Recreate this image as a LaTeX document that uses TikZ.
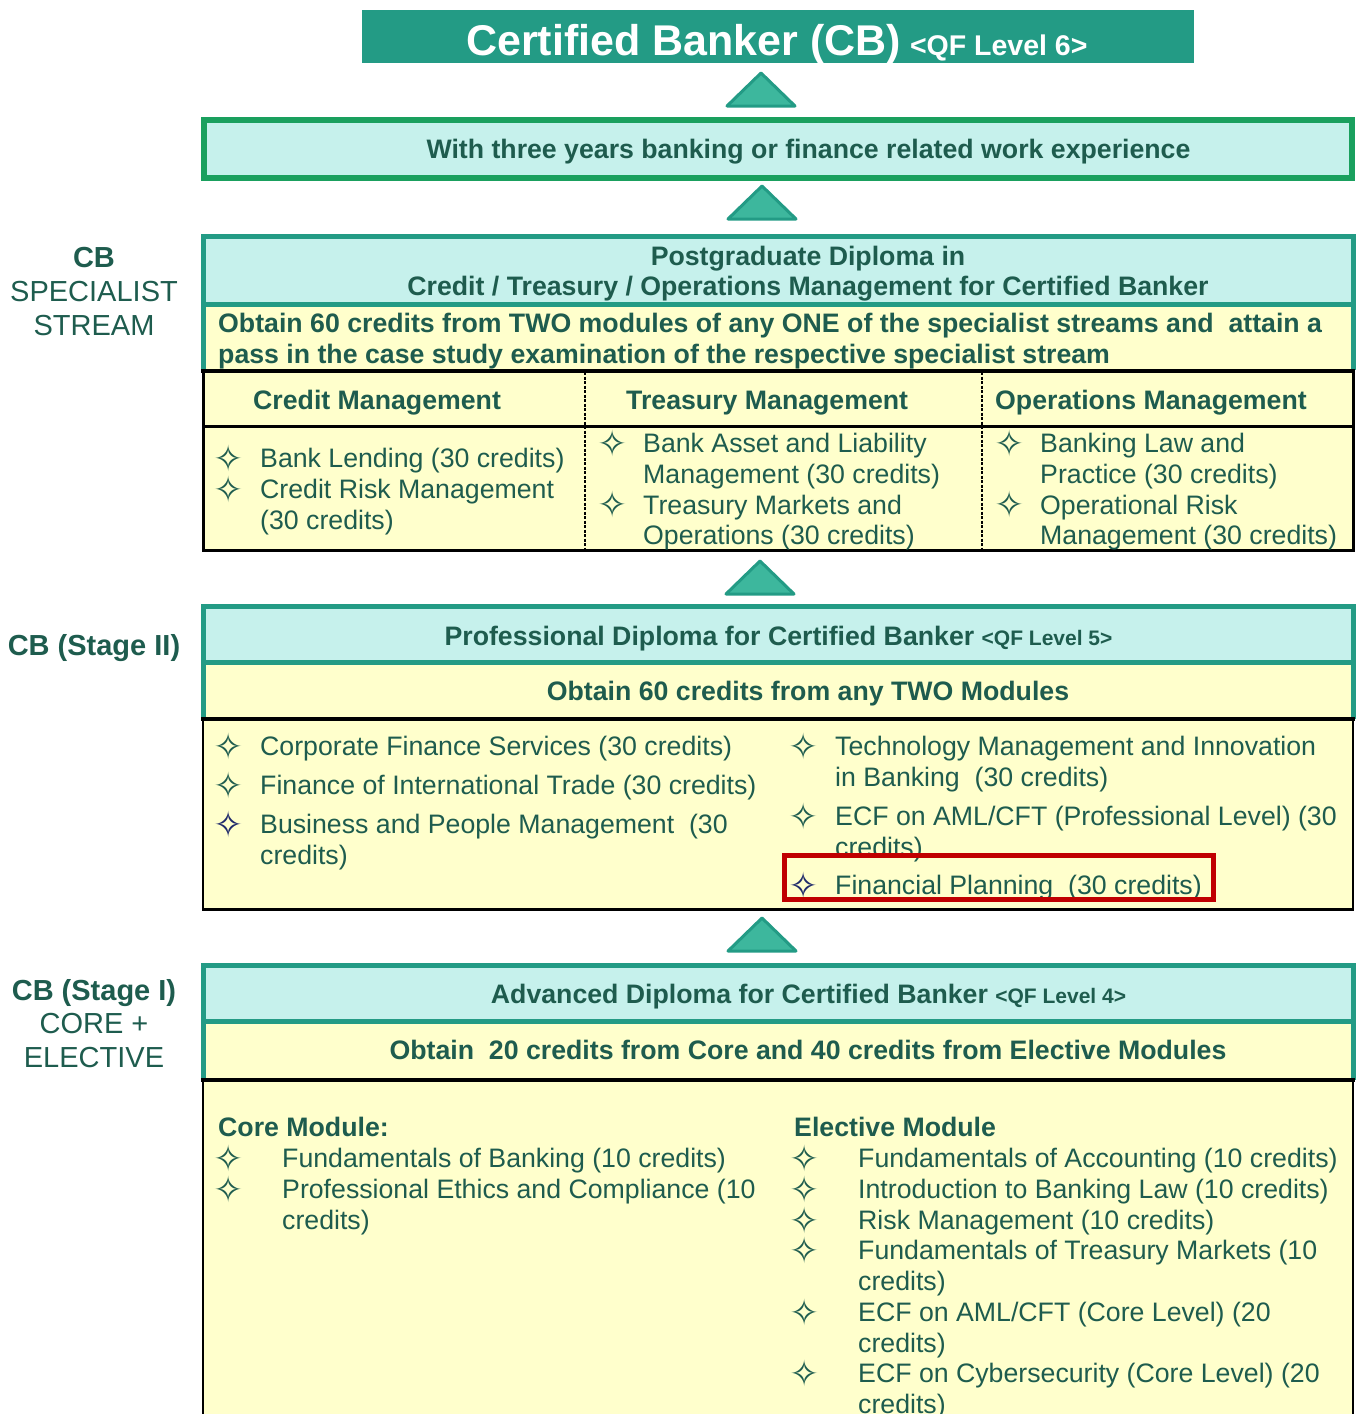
\documentclass[tikz,border=0pt]{standalone}
\usepackage{fontspec}
\setmainfont{Liberation Sans}
\newfontfamily\symfont{DejaVu Sans}
\definecolor{tgreen}{HTML}{1E5C4E}
\definecolor{cbteal}{HTML}{239B85}
\definecolor{cyanfill}{HTML}{C6F1EC}
\definecolor{yel}{HTML}{FFFFCC}
\definecolor{expgreen}{HTML}{1AA05E}
\definecolor{trifill}{HTML}{3DB79D}
\definecolor{navy}{HTML}{1F2A6B}
\definecolor{hired}{HTML}{C00000}
\tikzset{
 tx/.style={inner sep=0pt, anchor=base west, text=tgreen, font=\fontsize{26.7}{31}\selectfont},
 tb/.style={inner sep=0pt, anchor=base west, text=tgreen, font=\fontsize{26.7}{31}\selectfont\bfseries},
 tc/.style={tb, anchor=base},
 st/.style={inner sep=0pt, anchor=center, text=tgreen, font=\symfont\fontsize{36}{36}\selectfont},
 stn/.style={st, text=navy},
 lab/.style={inner sep=0pt, anchor=base, text=tgreen, font=\fontsize{29}{33}\selectfont},
 labb/.style={lab, font=\fontsize{29}{33}\selectfont\bfseries},
 tri/.style={fill=trifill, draw=cbteal, line width=3pt, line join=round},
 tealline/.style={draw=cbteal, line width=5pt},
 blk/.style={draw=black, line width=3pt},
}
\begin{document}
\begin{tikzpicture}[x=1pt,y=-1pt]
\useasboundingbox (0,0) rectangle (1356,1414);
\clip (0,0) rectangle (1356,1414);
% ---------- title ----------
\fill[cbteal] (362,10) rectangle (1194,63);
\node[inner sep=0pt, anchor=base west, text=white, font=\bfseries] (title) at (466,55)
  {\fontsize{43}{46}\selectfont Certified Banker (CB)\hspace{9pt}\fontsize{28.5}{30}\selectfont <QF Level 6>};
\draw[tri] (727,106) -- (795,106) -- (761,73) -- cycle;
% ---------- experience ----------
\fill[cyanfill] (201,117) rectangle (1355,181);
\draw[expgreen, line width=6pt] (204,120) rectangle (1352,178);
\node[tc] (exp) at (808.5,158) {With three years banking or finance related work experience};
\draw[tri] (728,219) -- (796,219) -- (762,186) -- cycle;
% ---------- postgraduate ----------
\fill[cyanfill] (203,237) rectangle (1353,304);
\fill[yel] (203,304) rectangle (1353,551);
\draw[tealline] (203,370) -- (203,236.5) -- (1353,236.5) -- (1353,370);
\draw[tealline] (203,304) -- (1353,304);
\node[tc] (pg1) at (808,265) {Postgraduate Diploma in};
\node[tc] (pg2) at (808,295) {Credit / Treasury / Operations Management for Certified Banker};
\node[tb] (pgo1) at (218,332) {Obtain 60 credits from TWO modules of any ONE of the specialist streams and \ attain a};
\node[tb] (pgo2) at (218,363) {pass in the case study examination of the respective specialist stream};
\draw[draw=black, line width=4pt] (201,370.5) -- (1355,370.5);
\draw[blk] (203,370) -- (203,550.5) -- (1353,550.5) -- (1353,370);
\draw[blk] (203,426.5) -- (1353,426.5);
\draw[black, line width=1.3pt, dash pattern=on 3pt off 1.5pt] (585,372) -- (585,549);
\draw[black, line width=1.3pt, dash pattern=on 3pt off 1.5pt] (982,372) -- (982,549);
\node[tb] (h1) at (253,409) {Credit Management};
\node[tb] (h2) at (626,409) {Treasury Management};
\node[tb] (h3) at (995,409) {Operations Management};
\node[st] (c1s) at (229,458) {✧};
\node[tx] (c1) at (260,467) {Bank Lending (30 credits)};
\node[st] (c2s) at (229,489) {✧};
\node[tx] (c2) at (260,498) {Credit Risk Management};
\node[tx] (c3) at (260,529) {(30 credits)};
\node[st] (t1s) at (613,443) {✧};
\node[tx] (t1) at (643,452) {Bank Asset and Liability};
\node[tx] (t2) at (643,483) {Management (30 credits)};
\node[st] (t3s) at (613,504) {✧};
\node[tx] (t3) at (643,514) {Treasury Markets and};
\node[tx] (t4) at (643,544) {Operations (30 credits)};
\node[st] (o1s) at (1010,443) {✧};
\node[tx] (o1) at (1040,452) {Banking Law and};
\node[tx] (o2) at (1040,483) {Practice (30 credits)};
\node[st] (o3s) at (1010,504) {✧};
\node[tx] (o3) at (1040,514) {Operational Risk};
\node[tx] (o4) at (1040,544) {Management (30 credits)};
\draw[tri] (726,594) -- (794,594) -- (760,561) -- cycle;
% ---------- professional ----------
\fill[cyanfill] (203,606.5) rectangle (1353,662.5);
\fill[yel] (203,662.5) rectangle (1353,909.5);
\draw[tealline] (203,719) -- (203,606.5) -- (1353,606.5) -- (1353,719);
\draw[tealline] (203,662.5) -- (1353,662.5);
\node[tc] (pd) at (778.5,645) {Professional Diploma for Certified Banker {\fontsize{21}{24}\selectfont <QF Level 5>}};
\node[tc] (pdo) at (808,700) {Obtain 60 credits from any TWO Modules};
\draw[draw=black, line width=4pt] (201,719) -- (1355,719);
\draw[draw=black, line width=2.5pt] (203,719) -- (203,909.5) -- (1353,909.5) -- (1353,719);
\node[st] (p1s) at (229,746) {✧};
\node[tx] (p1) at (260,755) {Corporate Finance Services (30 credits)};
\node[st] (p2s) at (229,785) {✧};
\node[tx] (p2) at (260,794) {Finance of International Trade (30 credits)};
\node[stn] (p3s) at (229,824) {✧};
\node[tx] (p3) at (260,833) {Business and People Management \ (30};
\node[tx] (p4) at (260,864) {credits)};
\node[st] (q1s) at (804,746) {✧};
\node[tx] (q1) at (835,755) {Technology Management and Innovation};
\node[tx] (q2) at (835,786) {in Banking \ (30 credits)};
\node[st] (q3s) at (804,816) {✧};
\node[tx] (q3) at (835,825) {ECF on AML/CFT (Professional Level) (30};
\node[tx] (q4) at (835,856) {credits)};
\node[stn] (q5s) at (804,885) {✧};
\node[tx] (q5) at (835,894) {Financial Planning \ (30 credits)};
\draw[hired, line width=5pt] (784,855.5) rectangle (1213.5,899.5);
\draw[tri] (728,951) -- (796,951) -- (762,918) -- cycle;
% ---------- advanced ----------
\fill[cyanfill] (203,965.5) rectangle (1353,1021.5);
\fill[yel] (203,1021.5) rectangle (1353,1420);
\draw[tealline] (203,1079.5) -- (203,965.5) -- (1353,965.5) -- (1353,1079.5);
\draw[tealline] (203,1021.5) -- (1353,1021.5);
\node[tc] (ad) at (808.5,1003) {Advanced Diploma for Certified Banker {\fontsize{21}{24}\selectfont <QF Level 4>}};
\node[tc] (ado) at (808,1059) {Obtain \ 20 credits from Core and 40 credits from Elective Modules};
\draw[draw=black, line width=4pt] (201,1079.5) -- (1355,1079.5);
\draw[draw=black, line width=2.5pt] (203,1079.5) -- (203,1420);
\draw[draw=black, line width=2.5pt] (1353,1079.5) -- (1353,1420);
\node[tb] (core) at (218,1136) {Core Module:};
\node[st] (k1s) at (229,1158) {✧};
\node[tx] (k1) at (282,1167) {Fundamentals of Banking (10 credits)};
\node[st] (k2s) at (229,1189) {✧};
\node[tx] (k2) at (282,1198) {Professional Ethics and Compliance (10};
\node[tx] (k3) at (282,1229) {credits)};
\node[tb] (elec) at (794,1136) {Elective Module};
\node[st] (e1s) at (805,1158) {✧};
\node[tx] (e1) at (858,1167) {Fundamentals of Accounting (10 credits)};
\node[st] (e2s) at (805,1189) {✧};
\node[tx] (e2) at (858,1198) {Introduction to Banking Law (10 credits)};
\node[st] (e3s) at (805,1220) {✧};
\node[tx] (e3) at (858,1229) {Risk Management (10 credits)};
\node[st] (e4s) at (805,1250) {✧};
\node[tx] (e4) at (858,1259) {Fundamentals of Treasury Markets (10};
\node[tx] (e5) at (858,1290) {credits)};
\node[st] (e6s) at (805,1312) {✧};
\node[tx] (e6) at (858,1321) {ECF on AML/CFT (Core Level) (20};
\node[tx] (e7) at (858,1352) {credits)};
\node[st] (e8s) at (805,1373) {✧};
\node[tx] (e8) at (858,1382) {ECF on Cybersecurity (Core Level) (20};
\node[tx] (e9) at (858,1413) {credits)};
% ---------- left labels ----------
\node[labb] (l1) at (94,267) {CB};
\node[lab] (l2) at (94,301) {SPECIALIST};
\node[lab] (l3) at (94,335) {STREAM};
\node[labb] (l4) at (94,655) {CB (Stage II)};
\node[labb] (l5) at (94,1000) {CB (Stage I)};
\node[lab] (l6) at (94,1033) {CORE +};
\node[lab] (l7) at (94,1067) {ELECTIVE};
\end{tikzpicture}
\end{document}
